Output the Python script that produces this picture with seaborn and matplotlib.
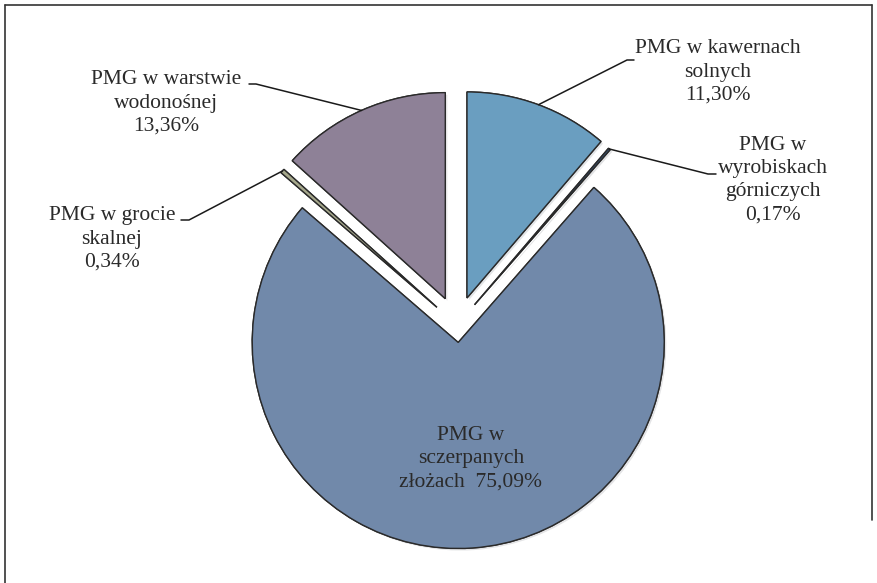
import matplotlib
matplotlib.use("Agg")
import matplotlib.pyplot as plt
import matplotlib.patheffects as pe
from matplotlib.lines import Line2D
import numpy as np
import seaborn as sns

# ---- data ----
categories = ["PMG w kawernach\nsolnych", "PMG w\nwyrobiskach\ngórniczych",
              "PMG w\nsczerpanych\nzłożach  75,09%", "PMG w grocie\nskalnej",
              "PMG w warstwie\nwodonośnej"]
values = [11.30, 0.17, 75.09, 0.34, 13.36]
pct_labels = ["11,30%", "0,17%", "", "0,34%", "13,36%"]
colors = ["#6a9ec0", "#34506f", "#7189aa", "#a6a88c", "#8e8197"]
explode = [0.14, 0.13, 0.085, 0.13, 0.14]

sns.set_theme(style="white")
plt.rcParams["font.family"] = ["Liberation Serif", "DejaVu Serif"]

W, H = 878, 583
fig = plt.figure(figsize=(W / 100, H / 100), dpi=100)
ax = fig.add_axes([0, 0, 1, 1])

cx, cy, R = 457, 325, 206  # pie centre / radius in pixels (layout)

wedges, _ = ax.pie(values, colors=colors, explode=explode, startangle=90,
                   counterclock=False, radius=1,
                   wedgeprops=dict(edgecolor="#2a2a2a", linewidth=1.0))
for w in wedges:
    w.set_path_effects([pe.withSimplePatchShadow(offset=(1.5, -1.5), alpha=0.12), pe.Normal()])

ax.set_xlim(-cx / R, (W - cx) / R)
ax.set_ylim(-(H - cy) / R, cy / R)
ax.set_aspect("equal")
ax.axis("off")


def px(x, y):
    return (x - cx) / R, (cy - y) / R


def anchor(w):
    mid = np.deg2rad((w.theta1 + w.theta2) / 2)
    c = w.center
    return c[0] + w.r * np.cos(mid), c[1] + w.r * np.sin(mid)


# label layout: (text centre px, elbow px, end px)
layout = {
    0: ((718, 72), (627, 60), (634, 60)),
    1: ((773, 180), (708, 174), (716, 174)),
    3: ((112, 239), (189, 220), (181, 220)),
    4: ((166, 103), (256, 84), (249, 84)),
}
fs = 15.5
ls = 1.3
for i, (tpos, elbow, end) in layout.items():
    text = categories[i] + "\n" + pct_labels[i]
    tx, ty = px(*tpos)
    ax.text(tx, ty, text, ha="center", va="center", fontsize=fs,
            color="#2a2a2a", linespacing=ls)
    a = anchor(wedges[i])
    e1 = px(*elbow)
    e2 = px(*end)
    ax.plot([a[0], e1[0], e2[0]], [a[1], e1[1], e2[1]], color="#1a1a1a", lw=1.1)

mx, my = px(471, 459)
ax.text(mx, my, categories[2], ha="center", va="center", fontsize=fs,
        color="#2a2a2a", linespacing=ls)

# outer frame
fl, ft, fr = 5 / W, 1 - 5 / H, 872 / W
fig.add_artist(Line2D([fl, fr], [ft, ft], color="#333333", lw=1.2, transform=fig.transFigure))
fig.add_artist(Line2D([fl, fl], [0, ft], color="#333333", lw=1.2, transform=fig.transFigure))
fig.add_artist(Line2D([fr, fr], [1 - 520 / H, ft], color="#333333", lw=1.2, transform=fig.transFigure))

fig.savefig("out.png", dpi=100)
